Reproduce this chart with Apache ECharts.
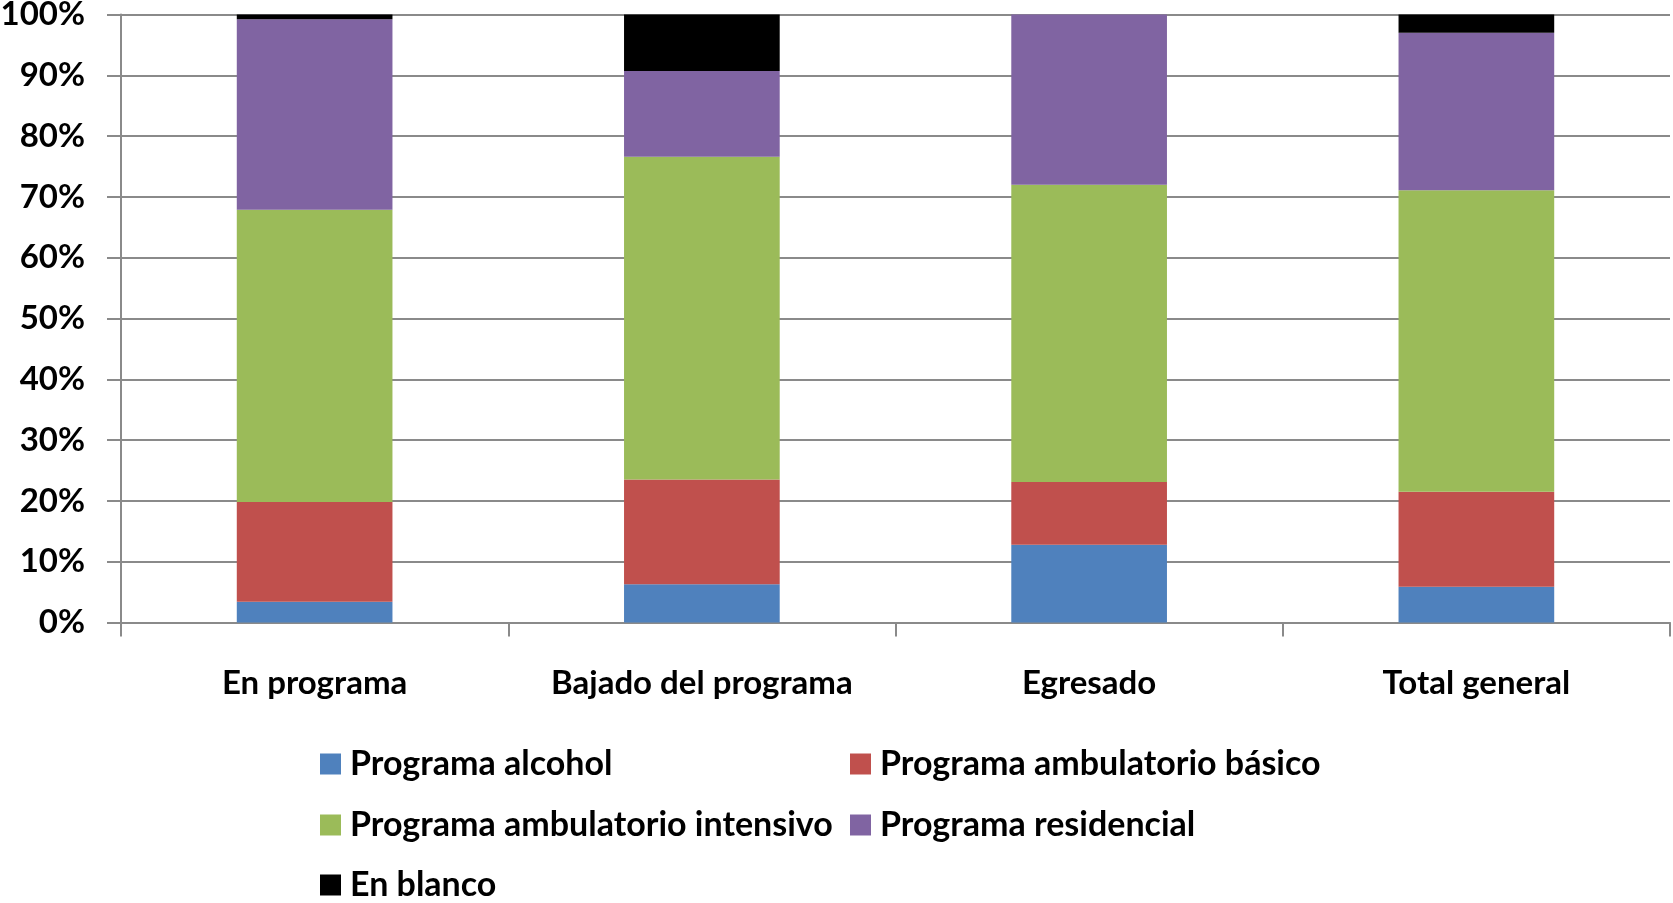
<!DOCTYPE html>
<html>
<head>
<meta charset="utf-8">
<script src="https://cdn.jsdelivr.net/npm/echarts@6/dist/echarts.min.js"></script>
<style>
  html, body { margin: 0; padding: 0; background: #fff; }
  #chart { width: 1673px; height: 903px; }
</style>
</head>
<body>
<div id="chart"></div>
<script>
// Distribution of program type by participant status (percent of each column)
const categories = ['En programa', 'Bajado del programa', 'Egresado', 'Total general'];
const alcohol     = [3.4, 6.3, 12.8, 5.9];
const basico      = [16.4, 17.2, 10.3, 15.6];
const intensivo   = [48.1, 53.1, 48.9, 49.6];
const residencial = [31.3, 14.1, 28.0, 25.9];
const blanco      = [0.8, 9.3, 0, 3.0];

const seriesNames = [
  'Programa alcohol',
  'Programa ambulatorio básico',
  'Programa ambulatorio intensivo',
  'Programa residencial',
  'En blanco'
];
const seriesData = [alcohol, basico, intensivo, residencial, blanco];
const colors = ['#4F81BD', '#C0504D', '#9BBB59', '#8064A2', '#000000'];

const FONT = 'Lato';
const gridGray = '#8a8a8a';

// one legend block per entry so the entries sit in two aligned columns
const legendSpots = [
  { left: 320, top: 747 },
  { left: 850, top: 747 },
  { left: 320, top: 808 },
  { left: 850, top: 808 },
  { left: 320, top: 868 }
];

const chart = echarts.init(document.getElementById('chart'));
chart.setOption({
  animation: false,
  color: colors,
  textStyle: { fontFamily: FONT },
  grid: {
    left: 121, right: 3, top: 14.5, bottom: 280.5,
    containLabel: false,
    outerBoundsMode: 'none'
  },
  legend: seriesNames.map((n, i) => ({
    data: [n],
    left: legendSpots[i].left,
    top: legendSpots[i].top,
    padding: 0,
    itemWidth: 21,
    itemHeight: 21,
    icon: 'rect',
    selectedMode: false,
    textStyle: { fontFamily: FONT, fontSize: 34, fontWeight: 'bold', color: '#000', padding: [0, 0, 0, 4] }
  })),
  xAxis: {
    type: 'category',
    data: categories,
    boundaryGap: true,
    axisLine: { show: true, lineStyle: { color: gridGray, width: 2 } },
    axisTick: { show: true, interval: 0, length: 14, alignWithLabel: false, lineStyle: { color: gridGray, width: 2 } },
    axisLabel: { interval: 0, color: '#000', fontFamily: FONT, fontSize: 33, fontWeight: 'bold', margin: 44 }
  },
  yAxis: {
    type: 'value',
    min: 0,
    max: 100,
    interval: 10,
    axisLine: { show: true, lineStyle: { color: gridGray, width: 2 } },
    axisTick: { show: true, length: 14, lineStyle: { color: gridGray, width: 2 } },
    splitLine: { show: true, lineStyle: { color: gridGray, width: 2 } },
    axisLabel: { color: '#000', fontFamily: FONT, fontSize: 33, fontWeight: 'bold', margin: 36, formatter: '{value}%' }
  },
  series: seriesNames.map((n, i) => ({
    name: n,
    type: 'bar',
    stack: 'total',
    barWidth: '40.2%',
    data: seriesData[i],
    itemStyle: { color: colors[i] }
  }))
});
</script>
</body>
</html>
